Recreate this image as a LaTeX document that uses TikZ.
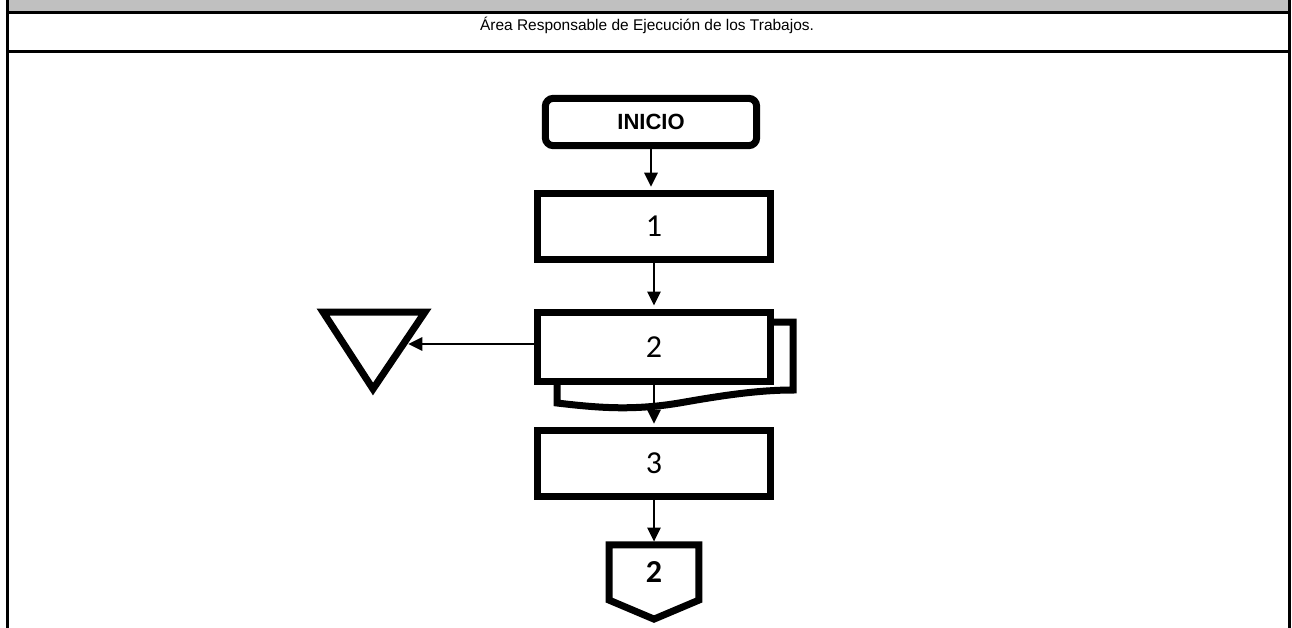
\documentclass[tikz,border=0pt]{standalone}
\usepackage{fontspec}
\setmainfont{Liberation Sans}
\newfontfamily\calibri{Carlito}
\usetikzlibrary{arrows.meta,calc}
\definecolor{headgray}{HTML}{C0C0C0}

\begin{document}
\begin{tikzpicture}[x=0.75pt, y=-0.75pt,
		>={Triangle[length=10.5pt,width=10pt]},
		procbox/.style={draw, line width=5.25pt, minimum width=174.5pt, minimum height=49.5pt, inner sep=0pt, font=\calibri\fontsize{24}{28}\selectfont},
		startbox/.style={draw, line width=5.25pt, rounded corners=6pt, minimum width=158.5pt, minimum height=35.5pt, inner sep=0pt, font=\bfseries\fontsize{16.5}{19}\selectfont},
		flow/.style={->, line width=1.5pt, shorten >=2.5pt}]
	\useasboundingbox (0,0) rectangle (1292,628);

	% Header of the table
	\fill[headgray] (7.5,0) rectangle (1289,12);
	\draw[line width=2.25pt] (7.5,12) -- (1289,12);
	\draw[line width=2.25pt] (7.5,51) -- (1289,51);
	\draw[line width=2.25pt] (7.5,0) -- (7.5,628);
	\draw[line width=2.25pt] (1289,0) -- (1289,628);
	\node (title) at (647,25) {\fontsize{11.6}{13}\selectfont Área Responsable de Ejecución de los Trabajos.};

	% Start and steps
	\node[startbox] (inicio) at (651,122) {INICIO};
	\node[procbox] (step1) at (654,226.5) {1};

	% Document behind step 2
	\draw[line width=5.25pt, fill=white] (557,385) -- (557,403)
		.. controls (600,408) and (635,411) .. (685,402)
		.. controls (725,395) and (760,390) .. (793,390)
		-- (793,322) -- (770,322);
	\node[procbox, fill=white, minimum height=52pt] (step2) at (654,347) {2};
	\node[procbox] (step3) at (654,463.5) {3};

	% Storage triangle
	\draw[line width=5.25pt] (323,312) -- (425,312) -- (373,389) -- cycle;
	\coordinate (store) at (405,344);

	% Off-page connector
	\node[minimum width=67pt, minimum height=41pt, inner sep=0pt, font=\calibri\bfseries\fontsize{24}{28}\selectfont] (conn) at (654,572.5) {2};
	\draw[line width=5.25pt] (conn.north west) -- (conn.north east) -- (conn.south east)
		-- ($(conn.south)+(0,19)$) -- (conn.south west) -- cycle;

	% Flow arrows
	\draw[flow] (inicio.south) -- (inicio.south |- step1.north);
	\draw[flow] (step1.south) -- (step2.north);
	\draw[flow] (step2.south) -- (step3.north);
	\draw[flow] (step3.south) -- (conn.north);
	\draw[flow] (step2.west |- store) -- (store);
\end{tikzpicture}
\end{document}
